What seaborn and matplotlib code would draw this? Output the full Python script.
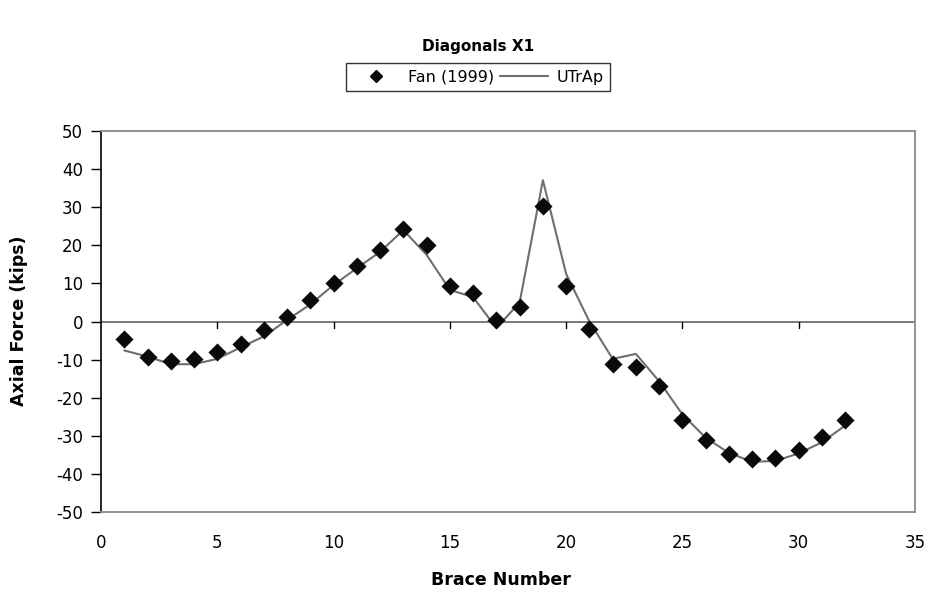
import matplotlib
matplotlib.use("Agg")
import matplotlib.pyplot as plt
import seaborn as sns
import pandas as pd
from matplotlib.lines import Line2D

sns.set_style("white")
plt.rcParams['font.family'] = ['DejaVu Sans']
plt.rcParams['axes.unicode_minus'] = False
plt.rcParams['text.color'] = 'black'
plt.rcParams['xtick.color'] = 'black'
plt.rcParams['ytick.color'] = 'black'

brace = list(range(1, 33))
fan_1999 = [-4.5, -9.4, -10.3, -9.9, -8.0, -5.8, -2.2, 1.3, 5.7, 10.0,
            14.7, 18.8, 24.2, 20.1, 9.3, 7.6, 0.4, 3.9, 30.4, 9.4,
            -1.9, -11.2, -12.0, -17.0, -25.9, -31.2, -34.9, -36.2, -35.9, -33.6,
            -30.4, -25.9]
utrap = [-7.6, -9.2, -11.2, -11.2, -9.8, -6.8, -3.9, 0.4, 4.5, 9.6,
         14.0, 18.3, 24.0, 17.5, 8.3, 6.4, -1.7, 5.0, 37.1, 12.5,
         0.0, -9.8, -8.5, -15.7, -24.4, -30.5, -34.5, -36.8, -36.6, -34.6,
         -31.7, -27.3]
x_ticks = [0, 5, 10, 15, 20, 25, 30, 35]
y_ticks = [50, 40, 30, 20, 10, 0, -10, -20, -30, -40, -50]

df = pd.DataFrame({"brace": brace, "fan": fan_1999, "utrap": utrap})

fig = plt.figure(figsize=(9.33, 5.93), dpi=100)
ax = fig.add_axes([0.1083, 0.1366, 0.8724, 0.6424])

ax.axhline(0, color="#6e6e6e", lw=1.3, zorder=1)
sns.lineplot(data=df, x="brace", y="utrap", ax=ax, color="#6e6e6e", lw=1.5, zorder=2)
sns.scatterplot(data=df, x="brace", y="fan", ax=ax, marker="D", s=85, color="#0a0a0a",
                edgecolor="#0a0a0a", linewidth=0, zorder=3)

ax.set_xlim(0, 35)
ax.set_ylim(-50, 50)
ax.set_xticks(x_ticks)
ax.set_yticks(y_ticks)
ax.tick_params(axis="both", labelsize=12, colors="black", length=0)
ax.tick_params(axis="y", left=True, length=7, width=1, direction="out", pad=6)
ax.tick_params(axis="x", pad=16)

# x ticks along zero line
for xv in x_ticks[1:-1]:
    ax.plot([xv, xv], [0, -1.6], color="black", lw=1, zorder=1, clip_on=False)

for s in ["top", "right", "bottom"]:
    ax.spines[s].set_color("#8a8a8a")
    ax.spines[s].set_linewidth(1.3)
ax.spines["left"].set_color("black")
ax.spines["left"].set_linewidth(1.2)

ax.set_xlabel("")
ax.set_ylabel("")
fig.text(0.537, 0.022, "Brace Number", ha="center", va="center", fontsize=12.5,
         fontweight="bold", color="black")
fig.text(0.020, 0.459, "Axial Force (kips)", ha="center", va="center", rotation=90,
         fontsize=12.5, fontweight="bold", color="black")
fig.text(0.512, 0.921, "Diagonals X1", ha="center", va="center", fontsize=11,
         fontweight="bold", color="black")

handles = [Line2D([], [], marker="D", color="#0a0a0a", ls="none", markersize=6.5),
           Line2D([], [], color="#6e6e6e", lw=1.5)]
leg = fig.legend(handles, ["Fan (1999)", "UTrAp"], ncol=2, loc="center",
                 bbox_to_anchor=(0.512, 0.870), frameon=True, fancybox=False,
                 fontsize=11.5, handlelength=3.0, columnspacing=0.4, handletextpad=0.5,
                 borderpad=0.4)
leg.get_frame().set_edgecolor("black")
leg.get_frame().set_linewidth(1.0)
for t in leg.get_texts():
    t.set_color("black")

fig.savefig("out.png", dpi=100, facecolor="white")
